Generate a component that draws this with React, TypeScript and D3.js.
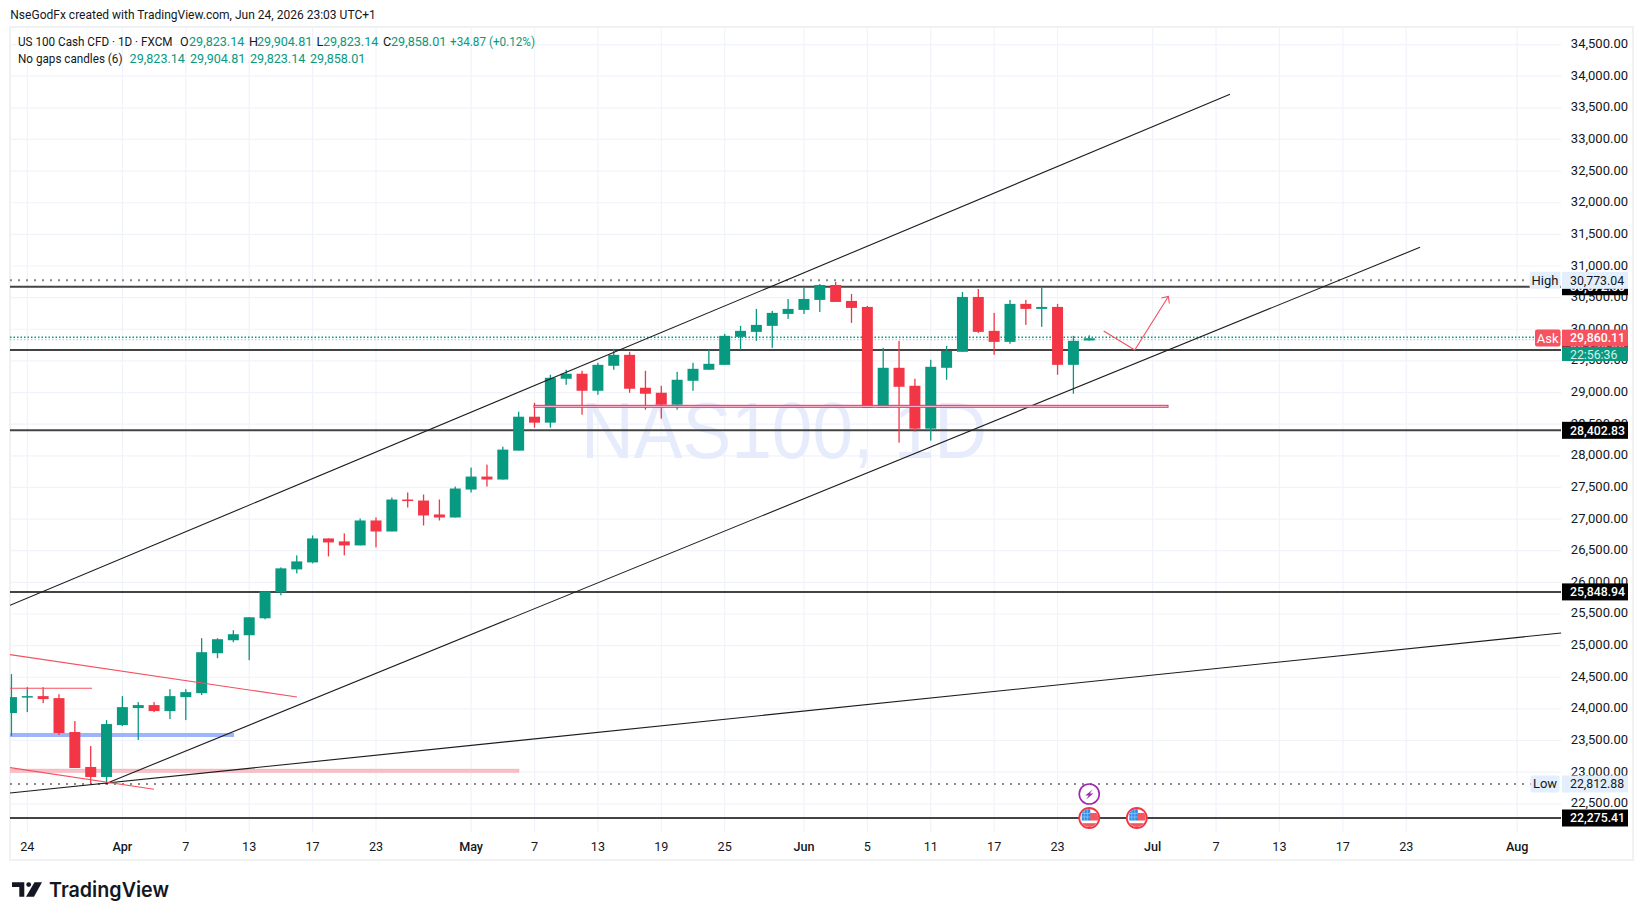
import React from "react";
import * as d3 from "d3";

// daily candles, Mar 23 onward (bar index = array index)
const opens = [23934,24186,24202,24170,23634,23082,22924,23744,24013,24060,23965,24186,24249,24880,25085,25164,25432,25842,26205,26315,26694,26647,26584,26978,26804,27309,27293,27073,27025,27467,27672,27625,28082,28618,28524,29218,29297,29028,29423,29596,29076,28997,28808,29186,29360,29438,29880,29959,30054,30243,30306,30464,30700,30448,30353,28760,29391,29107,28429,29391,29644,30511,29975,29801,30401,30322,30353,29438,29823.14];
const highs = [24549,24344,24344,24233,23808,23413,23823,24202,24107,24107,24312,24312,25117,25117,25243,25448,25858,26237,26426,26741,26694,26773,27009,27025,27341,27420,27388,27309,27514,27814,27861,28145,28697,28839,29281,29360,29344,29470,29691,29644,29344,29107,29328,29470,29675,29927,30054,30322,30290,30479,30653,30716,30748,30558,30369,29707,29817,29218,29517,29738,30590,30637,30259,30464,30464,30669,30401,29896,29904.81];
const lows = [23571,23949,24091,23587,23066,22813,22813,23729,23508,23949,23839,23823,24218,24801,25054,24770,25416,25795,26142,26300,26410,26426,26584,26552,26804,27183,26899,26978,27025,27420,27514,27625,28082,28445,28445,29123,28650,28965,29360,28997,28729,28587,28729,29028,29360,29438,29675,29817,29707,30164,30243,30274,30432,30101,28760,28760,28208,28382,28240,29202,29644,29943,29596,29770,30069,30038,29281,28981,29823.14];
const closes = [24186,24202,24155,23618,23066,22924,23760,24028,24060,23965,24202,24265,24896,25101,25180,25448,25858,26221,26331,26694,26631,26584,26978,26804,27309,27293,27057,27025,27483,27672,27625,28098,28618,28524,29233,29297,29028,29438,29596,29060,28981,28808,29202,29375,29454,29896,29975,30069,30259,30322,30479,30700,30432,30338,28760,29391,29091,28429,29407,29659,30511,29959,29801,30401,30322,30353,29438,29817,29858.01];

const priceTicks = d3.range(22500, 35000, 500);
const timeLabels = ["24","Apr","7","13","17","23","May","7","13","19","25","Jun","5","11","17","23","Jul","7","13","17","23","Aug"];
const timeBars = [1,7,11,15,19,23,29,33,37,41,45,50,54,58,62,66,72,76,80,84,88,95];
const monthLabels = ["Apr","May","Jun","Jul","Aug"];

// drawn levels
const levelPrices = [30672.5, 29672.3, 28402.83, 25848.94, 22275.41];
const levelLabels = ["30,672.50", "29,672.30", "28,402.83", "25,848.94", "22,275.41"];
const highPrice = 30773.04;
const lowPrice = 22812.88;
const askPrice = 29860.11;

// trend lines: [bar, price, bar, price]
const blackLines = [
  [-0.09, 25637, 76.88, 33714],
  [5.9, 22813, 88.87, 31296],
  [-0.09, 22671, 97.77, 25200],
];
const redLines = [
  [-0.09, 24857, 18.01, 24188],
  [-0.09, 23071, 8.99, 22729],
  [-0.09, 24326, 5.08, 24326],
];
const arrowBars = [68.91, 70.87, 72.99];
const arrowPrices = [29973, 29672, 30518];
const eventBars = [68, 71];

const FONT = "Roboto, 'Noto Sans', sans-serif";

const App: React.FC = () => {
  const x = d3.scaleLinear().domain([0, 100]).range([11.45, 1596.45]);
  const y = d3.scaleLinear().domain([31000, 22275.41]).range([266, 818]);
  const fmt = d3.format(",.2f");
  const left = 10;
  const right = 1561;
  const top = 27;
  const bottom = 832;
  const bw = 11;
  const gridColor = "#f0f3fa";

  const priceLabel = (yy: number, text: string, bg: string, fg: string, bold = false) => (
    <g>
      <rect x={1562} y={yy - 8.5} width={66} height={17} fill={bg} />
      <text x={1570} y={yy + 4.3} fontSize={12.3} fontWeight={bold ? 500 : 400} fill={fg}>{text}</text>
    </g>
  );
  const pill = (yy: number, xx: number, w: number, text: string, bg: string, fg: string) => (
    <g>
      <rect x={xx} y={yy - 8.5} width={w} height={17} rx={2} fill={bg} />
      <text x={xx + w / 2} y={yy + 4.5} textAnchor="middle" fontSize={13} fill={fg}>{text}</text>
    </g>
  );

  return (
    <svg
      width={1643}
      height={920}
      style={{ position: "absolute", left: 0, top: 0, background: "#fff", fontFamily: FONT }}
    >
      <defs>
        <clipPath id="plot">
          <rect x={left} y={top} width={right - left + 1} height={bottom - top} />
        </clipPath>
        {eventBars.map((b) => (
          <clipPath key={b} id={`flag${b}`}>
            <circle cx={x(b)} cy={818} r={9} />
          </clipPath>
        ))}
      </defs>

      <text x={10.3} y={19} fontSize={12.6} fill="#131722" textLength={365.5} lengthAdjust="spacingAndGlyphs">NseGodFx created with TradingView.com, Jun 24, 2026 23:03 UTC+1</text>
      <rect x={10} y={27} width={1623} height={833} fill="none" stroke="#f0f1f3" strokeWidth={2} />

      {/* grid */}
      {priceTicks.map((p) => (
        <line key={p} x1={left} x2={right} y1={y(p)} y2={y(p)} stroke={gridColor} strokeWidth={1.2} />
      ))}
      {timeBars.map((b, i) => (
        <line key={i} x1={x(b)} x2={x(b)} y1={top} y2={bottom} stroke={gridColor} strokeWidth={1.2} />
      ))}

      {/* watermark */}
      <text x={581} y={458} fontSize={80} fill="#e7ecfd" fontFamily="'Liberation Sans', sans-serif" textLength={406} lengthAdjust="spacingAndGlyphs">NAS100, 1D</text>

      <g clipPath="url(#plot)">
        {/* zones */}
        <rect x={x(-0.09)} width={x(14.04) - x(-0.09)} y={y(23587) - 2} height={4} fill="#9db5fb" />
        <rect x={x(-0.09)} width={x(32.02) - x(-0.09)} y={y(23023) - 1.6} height={3.2} fill="#f8c0c6" stroke="#f4a5ae" strokeWidth={0.5} />

        {/* levels */}
        {levelPrices.map((p) => (
          <line key={p} x1={left} x2={right} y1={y(p)} y2={y(p)} stroke="#434343" strokeWidth={2} />
        ))}
        <line x1={left} x2={right} y1={y(highPrice)} y2={y(highPrice)} stroke="#888" strokeWidth={2} strokeDasharray="2 6" />
        <line x1={left} x2={right} y1={y(lowPrice)} y2={y(lowPrice)} stroke="#888" strokeWidth={2} strokeDasharray="2 6" />
        <line x1={left} x2={right} y1={y(askPrice) - 0.8} y2={y(askPrice) - 0.8} stroke="#089981" strokeWidth={1.5} strokeDasharray="1.5 2" />
        <line x1={left} x2={right} y1={y(askPrice) + 1.6} y2={y(askPrice) + 1.6} stroke="#089981" strokeOpacity={0.35} strokeWidth={1.2} strokeDasharray="1.5 2" />

        {/* candles */}
        {closes.map((c, i) => {
          const o = opens[i];
          const col = c >= o ? "#089981" : "#f23645";
          const y0 = y(Math.max(o, c));
          const y1 = y(Math.min(o, c));
          return (
            <g key={i} fill={col}>
              <rect x={x(i) - 0.65} width={1.3} y={y(highs[i])} height={y(lows[i]) - y(highs[i])} />
              <rect x={x(i) - bw / 2} width={bw} y={y0} height={Math.max(y1 - y0, 1.5)} />
            </g>
          );
        })}

        {/* trend lines */}
        {blackLines.map((l, i) => (
          <line key={i} x1={x(l[0])} y1={y(l[1])} x2={x(l[2])} y2={y(l[3])} stroke="#1c1c1c" strokeWidth={1.1} />
        ))}
        {redLines.map((l, i) => (
          <line key={i} x1={x(l[0])} y1={y(l[1])} x2={x(l[2])} y2={y(l[3])} stroke="#f4505f" strokeWidth={1.1} />
        ))}

        {/* support box */}
        <rect x={x(32.97)} width={x(72.97) - x(32.97)} y={y(28798)} height={y(28767) - y(28798)} fill="#fbd5e1" stroke="#ee2a66" strokeWidth={1} />

        {/* projected move */}
        <path
          d={d3.line()(arrowBars.map((b, i) => [x(b), y(arrowPrices[i])]) as [number, number][]) as string}
          fill="none"
          stroke="#f4505f"
          strokeWidth={1.1}
        />
        <path
          d={`M${x(72.99) - 7},${y(30518) + 1.5}L${x(72.99)},${y(30518)}L${x(72.99) + 1},${y(30518) + 7}`}
          fill="none"
          stroke="#f4505f"
          strokeWidth={1.1}
        />
      </g>

      {/* events */}
      <g>
        <circle cx={x(68)} cy={794} r={10} fill="#fff" stroke="#9c27b0" strokeWidth={1.6} />
        <path
          d={`M${x(68) + 3.5},789.5L${x(68) - 4},795.5H${x(68) - 0.5}L${x(68) - 3},799.5L${x(68) + 4},793.5H${x(68) + 0.5}Z`}
          fill="#9c27b0"
        />
        {eventBars.map((b) => (
          <g key={b}>
            <circle cx={x(b)} cy={818} r={10} fill="#fff" stroke="#f23645" strokeWidth={1.8} />
            <g clipPath={`url(#flag${b})`}>
              <rect x={x(b)} y={813} width={9} height={7.5} fill="#f4575f" />
              <rect x={x(b) - 9} y={823.2} width={18} height={5} fill="#f4575f" />
              <rect x={x(b) - 7.5} y={809} width={8.5} height={11.5} fill="#2f8fe8" />
              <line x1={x(b) - 5} x2={x(b) - 5} y1={809} y2={820.5} stroke="#a9d3f7" strokeWidth={0.6} />
              <line x1={x(b) - 2} x2={x(b) - 2} y1={809} y2={820.5} stroke="#a9d3f7" strokeWidth={0.6} />
              <line x1={x(b) - 8} x2={x(b) + 1} y1={813.5} y2={813.5} stroke="#a9d3f7" strokeWidth={0.6} />
              <line x1={x(b) - 8} x2={x(b) + 1} y1={817} y2={817} stroke="#a9d3f7" strokeWidth={0.6} />
            </g>
          </g>
        ))}
      </g>

      {/* legend */}
      <g fontSize={12.6}>
        <text x={18} y={46} fill="#131722" textLength={154.5} lengthAdjust="spacingAndGlyphs">US 100 Cash CFD · 1D · FXCM</text>
        <text x={180} y={46} fill="#131722">O</text>
        <text x={189} y={46} fill="#089981">{fmt(opens[68])}</text>
        <text x={249} y={46} fill="#131722">H</text>
        <text x={257} y={46} fill="#089981">{fmt(highs[68])}</text>
        <text x={316.5} y={46} fill="#131722">L</text>
        <text x={323} y={46} fill="#089981">{fmt(lows[68])}</text>
        <text x={383} y={46} fill="#131722">C</text>
        <text x={391} y={46} fill="#089981">{fmt(closes[68])}</text>
        <text x={450} y={46} fill="#089981" textLength={85} lengthAdjust="spacingAndGlyphs">+34.87 (+0.12%)</text>
        <text x={18} y={63} fill="#131722" textLength={104.5} lengthAdjust="spacingAndGlyphs">No gaps candles (6)</text>
        <text x={129.6} y={63} fill="#089981">{fmt(opens[68])}</text>
        <text x={190} y={63} fill="#089981">{fmt(highs[68])}</text>
        <text x={250} y={63} fill="#089981">{fmt(lows[68])}</text>
        <text x={310} y={63} fill="#089981">{fmt(closes[68])}</text>
      </g>

      {/* price axis */}
      {priceTicks.map((p) => (
        <text key={p} x={1628} y={y(p) + 3.5} textAnchor="end" fontSize={13} fill="#131722">{fmt(p)}</text>
      ))}

      {/* time axis */}
      {timeLabels.map((t, i) => (
        <text
          key={i}
          x={x(timeBars[i])}
          y={851}
          textAnchor="middle"
          fontSize={12.6}
          fontWeight={monthLabels.includes(t) ? 500 : 400}
          fill="#131722"
        >
          {t}
        </text>
      ))}

      {/* price labels */}
      {levelPrices.map((p, i) => (
        <g key={p}>{priceLabel(y(p), levelLabels[i], "#000", "#fff", true)}</g>
      ))}
      {pill(y(highPrice), 1529.5, 31, "High", "#e3effd", "#131722")}
      {priceLabel(y(highPrice), fmt(highPrice), "#e3effd", "#131722")}
      {pill(y(lowPrice), 1530.5, 29, "Low", "#e3effd", "#131722")}
      {priceLabel(y(lowPrice), fmt(lowPrice), "#e3effd", "#131722")}
      {pill(y(askPrice), 1535, 25.5, "Ask", "#f7525f", "#fff")}
      {priceLabel(y(askPrice), fmt(askPrice), "#f7525f", "#fff", true)}
      <rect x={1562} y={347} width={66} height={14} fill="#089981" />
      <text x={1570} y={358.5} fontSize={12.3} fill="#d5f0ea">22:56:36</text>

      {/* logo */}
      <g fill="#131722">
        <path d="M12,882.3H24.3V896.7H19.3V887H12Z" />
        <circle cx={28.7} cy={884.6} r={2.4} />
        <path d="M34.5,882.3H42L34,896.7H26Z" />
        <text x={49} y={897} fontSize={20.7} fontWeight={600} fontFamily="Inter, Roboto, sans-serif" textLength={120} lengthAdjust="spacingAndGlyphs">TradingView</text>
      </g>
    </svg>
  );
};

export default App;
